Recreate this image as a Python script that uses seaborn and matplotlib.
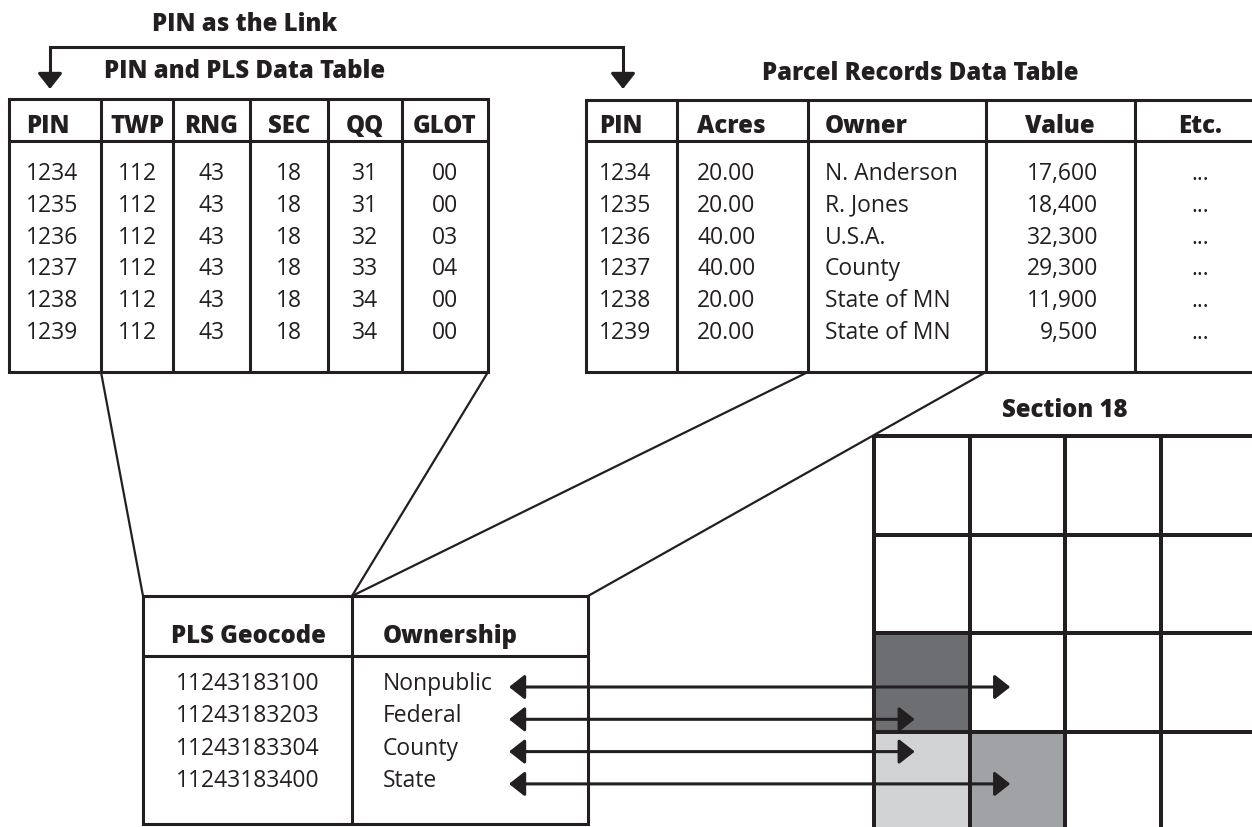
import numpy as np
import matplotlib
matplotlib.use('Agg')
import matplotlib.pyplot as plt
from matplotlib.colors import ListedColormap
import seaborn as sns

# table contents
pin = ['1234', '1235', '1236', '1237', '1238', '1239']
twp = ['112', '112', '112', '112', '112', '112']
rng = ['43', '43', '43', '43', '43', '43']
sec = ['18', '18', '18', '18', '18', '18']
qq = ['31', '31', '32', '33', '34', '34']
glot = ['00', '00', '03', '04', '00', '00']

acres = ['20.00', '20.00', '40.00', '40.00', '20.00', '20.00']
owner = ['N. Anderson', 'R. Jones', 'U.S.A.', 'County', 'State of MN', 'State of MN']
value = ['17,600', '18,400', '32,300', '29,300', '11,900', '9,500']
etc = ['...', '...', '...', '...', '...', '...']

geocode = ['11243183100', '11243183203', '11243183304', '11243183400']
ownership = ['Nonpublic', 'Federal', 'County', 'State']

# section 18 quarter-quarter grid: 0 white, 1 dark, 2 light, 3 medium
section_grid = np.array([[0, 0, 0, 0],
                         [0, 0, 0, 0],
                         [1, 0, 0, 0],
                         [2, 3, 0, 0]])
shades = ['#ffffff', '#6d6e71', '#d1d3d4', '#a1a2a6']
arrow_col = [1, 0, 0, 1]

sns.set_theme(style='white')
plt.rcParams['font.family'] = ['Open Sans', 'DejaVu Sans']

ink = '#231f20'
W, H = 1252, 828
fig = plt.figure(figsize=(12.52, 8.28), dpi=100)
ax = fig.add_axes([0, 0, 1, 1])
ax.set_xlim(0, W)
ax.set_ylim(H, 0)
ax.axis('off')
ax.set_zorder(2)

FS = 16.5
HFS = 17.2
HW = 'heavy'


def draw_table(edges, top, head_bot, bottom, headers, head_pos, cols, col_pos, base0, step, head_base):
    lw = 2.2
    ax.plot([edges[0], edges[-1], edges[-1], edges[0], edges[0]],
            [top, top, bottom, bottom, top], color=ink, lw=lw, solid_joinstyle='miter')
    ax.plot([edges[0], edges[-1]], [head_bot, head_bot], color=ink, lw=lw)
    for x in edges[1:-1]:
        ax.plot([x, x], [top, bottom], color=ink, lw=lw)
    for h, (x, ha) in zip(headers, head_pos):
        ax.text(x, head_base, h, ha=ha, va='baseline', fontsize=HFS, fontweight=HW, color=ink)
    for col, (x, ha) in zip(cols, col_pos):
        for i, v in enumerate(col):
            ax.text(x, base0 + i * step, v, ha=ha, va='baseline', fontsize=FS, color=ink)


# PIN and PLS table
e1 = [9, 101, 173, 250, 328, 402, 488]
c1 = [(26, 'left')] + [((e1[i] + e1[i + 1]) / 2, 'center') for i in range(1, 6)]
draw_table(e1, 100, 142, 373, ['PIN', 'TWP', 'RNG', 'SEC', 'QQ', 'GLOT'], c1,
           [pin, twp, rng, sec, qq, glot], c1, 180, 31.8, 133)

# Parcel records table
e2 = [586, 677, 808, 986, 1135, 1268]
h2 = [(599, 'left'), (697, 'left'), (825, 'left'), (1060, 'center'), (1200, 'center')]
c2 = [(599, 'left'), (697, 'left'), (825, 'left'), (1098, 'right'), (1200, 'center')]
draw_table(e2, 101, 142, 373, ['PIN', 'Acres', 'Owner', 'Value', 'Etc.'], h2,
           [pin, acres, owner, value, etc], c2, 180, 31.8, 133)

# PLS geocode / ownership table
e3 = [143, 352, 588]
c3 = [(248, 'center'), (383, 'left')]
draw_table(e3, 597, 657, 825, ['PLS Geocode', 'Ownership'], c3,
           [geocode, ownership], c3, 690, 32.3, 643)

# titles
for x, y, s in [(245, 31, 'PIN as the Link'), (245, 78, 'PIN and PLS Data Table'),
                (920, 80, 'Parcel Records Data Table'), (1065, 417, 'Section 18')]:
    ax.text(x, y, s, ha='center', va='baseline', fontsize=HFS, fontweight=HW, color=ink)

# PIN link bracket
ax.plot([50, 50, 623, 623], [78, 48, 48, 78], color=ink, lw=2.2, solid_joinstyle='miter')
for x in [50, 623]:
    ax.annotate('', xy=(x, 90), xytext=(x, 74),
                arrowprops=dict(arrowstyle='-|>,head_length=0.95,head_width=0.75', mutation_scale=10,
                                lw=2.2, color=ink, shrinkA=0, shrinkB=0))

# connector lines
for (x0, y0), (x1, y1) in [((101, 373), (143, 597)), ((488, 373), (352, 597)),
                           ((808, 373), (352, 597)), ((986, 373), (588, 597))]:
    ax.plot([x0, x1], [y0, y1], color=ink, lw=1.6)

# section grid
gx0, gx1, gy0, gy1 = 874, 1256, 437, 831
gax = fig.add_axes([gx0 / W, 1 - gy1 / H, (gx1 - gx0) / W, (gy1 - gy0) / H])
gax.set_zorder(1)
sns.heatmap(section_grid, cmap=ListedColormap(shades), vmin=-0.5, vmax=3.5, cbar=False,
            linewidths=1.5, linecolor=ink, xticklabels=False, yticklabels=False, ax=gax)
gax.collections[0].set_clip_on(False)

cell_w = (gx1 - gx0) / 4
for i, col in enumerate(arrow_col):
    y = 690 + i * 32.3 - 2
    tip = gx0 + (col + 0.5) * cell_w - 7
    ax.annotate('', xy=(tip, y), xytext=(509, y),
                arrowprops=dict(arrowstyle='<|-|>,head_length=0.95,head_width=0.75', mutation_scale=10,
                                lw=2.2, color=ink, shrinkA=0, shrinkB=0))

fig.savefig('out.png', dpi=100)
